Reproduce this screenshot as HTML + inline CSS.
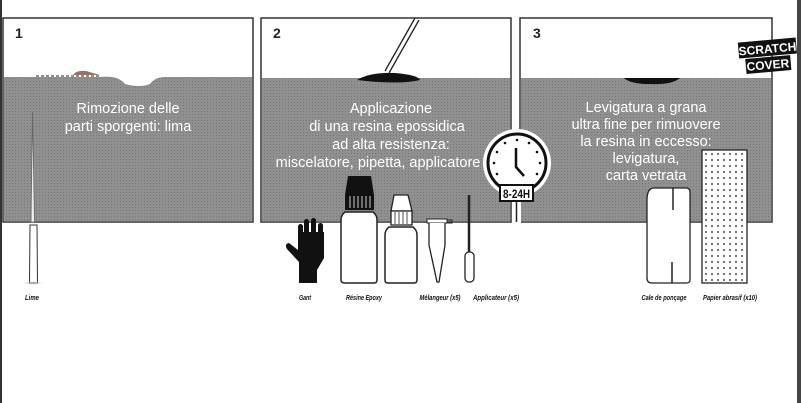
<!DOCTYPE html>
<html><head><meta charset="utf-8"><style>
html,body{margin:0;padding:0;background:#fff;width:801px;height:403px;overflow:hidden}
svg{display:block}
.t{font-family:"Liberation Sans",sans-serif;font-size:14.5px;fill:#fff;text-anchor:middle}
.l{font-family:"Liberation Sans",sans-serif;font-size:7px;font-style:italic;font-weight:bold;fill:#111;text-anchor:middle}
.n{font-family:"Liberation Sans",sans-serif;font-size:14px;font-weight:bold;fill:#222}
</style></head><body>
<svg width="801" height="403" viewBox="0 0 801 403">
<defs>
<pattern id="ht" width="3" height="3" patternUnits="userSpaceOnUse"><rect width="3" height="3" fill="#909090"/><rect width="1" height="1" fill="#777"/></pattern>
<radialGradient id="sh"><stop offset="0" stop-color="#888"/><stop offset="1" stop-color="#fff" stop-opacity="0"/></radialGradient>
</defs>
<rect x="0" y="0" width="2" height="403" fill="#333"/>
<rect x="797" y="0" width="4" height="403" fill="#444"/>
<g stroke="#333" stroke-width="1.5">
<rect x="3" y="18" width="250" height="204" fill="#fff"/>
<rect x="261" y="18" width="250" height="204" fill="#fff"/>
<rect x="520" y="18" width="252" height="204" fill="#fff"/>
</g>
<path d="M3.7 77 H100 Q118 75 125 84 Q140 88 150 84 Q155 77 165 77 H252.3 V221.3 H3.7Z" fill="url(#ht)"/>
<rect x="261.7" y="78" width="248.6" height="143.3" fill="url(#ht)"/>
<rect x="520.7" y="78" width="250.6" height="143.3" fill="url(#ht)"/>
<line x1="36" y1="76" x2="100" y2="76" stroke="#222" stroke-dasharray="3,2"/>
<path d="M73 75 Q76 70 86 71 L100 75Z" fill="#9a7068"/>
<text class="n" x="15" y="38">1</text><text class="n" x="273" y="38">2</text><text class="n" x="533" y="38">3</text>
<path d="M357 80 Q370 72 395 73 Q418 75 420 80 Q400 85 357 80Z" fill="#111"/>
<path d="M385 71 L415 18 M389 73 L419 20" fill="none" stroke="#222" stroke-width="1.3"/>
<path d="M624 78 H680 Q672 85 650 84 Q630 84 624 78Z" fill="#111"/>
<g transform="rotate(-5 768 55)"><rect x="739" y="40" width="58" height="16" fill="#111"/><text x="768" y="53" font-family="Liberation Sans" font-weight="bold" font-size="12" fill="#fff" text-anchor="middle">SCRATCH</text><rect x="745" y="57" width="45" height="15" fill="#111"/><text x="767" y="69" font-family="Liberation Sans" font-weight="bold" font-size="12" fill="#fff" text-anchor="middle">COVER</text></g>
<text class="t" x="128" y="113">Rimozione delle</text>
<text class="t" x="128" y="131">parti sporgenti: lima</text>
<text class="t" x="391" y="113">Applicazione</text>
<text class="t" x="387" y="131">di una resina epossidica</text>
<text class="t" x="391" y="149">ad alta resistenza:</text>
<text class="t" x="378" y="167">miscelatore, pipetta, applicatore</text>
<text class="t" x="646" y="112">Levigatura a grana</text>
<text class="t" x="646" y="129">ultra fine per rimuovere</text>
<text class="t" x="646" y="146">la resina in eccesso:</text>
<text class="t" x="646" y="163">levigatura,</text>
<text class="t" x="646" y="180">carta vetrata</text>
<!-- clock -->
<rect x="512" y="190" width="9" height="33" fill="#fff"/>
<line x1="516.5" y1="195" x2="516.5" y2="222" stroke="#222" stroke-width="1.5"/>
<circle cx="517" cy="163" r="34" fill="#fff"/>
<circle cx="517" cy="163" r="29" fill="#fff" stroke="#111" stroke-width="3"/>
<g fill="#111"><circle cx="517" cy="140" r="1.3"/><circle cx="529" cy="143" r="1.3"/><circle cx="537" cy="152" r="1.3"/><circle cx="540" cy="163" r="1.3"/><circle cx="537" cy="174" r="1.3"/><circle cx="505" cy="143" r="1.3"/><circle cx="497" cy="152" r="1.3"/><circle cx="494" cy="163" r="1.3"/><circle cx="497" cy="174" r="1.3"/></g>
<path d="M516 148 V167 L524 176" fill="none" stroke="#111" stroke-width="2.5"/>
<rect x="500" y="185" width="33" height="16" fill="#fff" stroke="#111" stroke-width="2"/>
<text x="516.5" y="198" font-family="Liberation Sans" font-weight="bold" font-size="12" fill="#111" text-anchor="middle" textLength="27" lengthAdjust="spacingAndGlyphs">8-24H</text>
<!-- lime -->
<path d="M32.5 112 L34.5 222 L31 222Z" fill="#eee" stroke="#666" stroke-width="0.8"/>
<path d="M30 225 L37 225 L37.5 283 L29.5 283Z" fill="#fff" stroke="#333"/>
<ellipse cx="33" cy="283" rx="12" ry="2" fill="url(#sh)"/>
<!-- glove -->
<g fill="#111">
<path d="M299 283 V262 L287 249 Q284 244 289 243 L298 250 V232 H324 V258 L317 270 V283Z"/>
<rect x="298" y="224" width="5" height="14" rx="2.5"/>
<rect x="304" y="219" width="5" height="18" rx="2.5"/>
<rect x="311" y="218" width="5" height="18" rx="2.5"/>
<rect x="318" y="223" width="5" height="16" rx="2.5"/>
</g>
<!-- big bottle -->
<path d="M348 176 H371 L374 195 V210 H345 V195Z" fill="#111"/>
<g stroke="#fff" stroke-width="0.8"><line x1="350" y1="196" x2="350" y2="208"/><line x1="354" y1="196" x2="354" y2="208"/><line x1="358" y1="196" x2="358" y2="208"/><line x1="362" y1="196" x2="362" y2="208"/><line x1="366" y1="196" x2="366" y2="208"/><line x1="370" y1="196" x2="370" y2="208"/></g>
<path d="M345 212 Q341 215 341 220 V280 Q341 283 345 283 H374 Q377 283 377 280 V220 Q377 215 373 212Z" fill="#fff" stroke="#222" stroke-width="1.5"/>
<!-- small bottle -->
<path d="M394 195 H408 L412 211 H391Z" fill="#fff" stroke="#222" stroke-width="1.3"/>
<rect x="391" y="211" width="21" height="14" fill="#fff" stroke="#222" stroke-width="1.3"/>
<g stroke="#222" stroke-width="0.8"><line x1="395" y1="212" x2="395" y2="224"/><line x1="399" y1="212" x2="399" y2="224"/><line x1="403" y1="212" x2="403" y2="224"/><line x1="407" y1="212" x2="407" y2="224"/></g>
<path d="M389 227 Q385 230 385 235 V280 Q385 283 388 283 H414 Q417 283 417 280 V235 Q417 230 413 227Z" fill="#fff" stroke="#222" stroke-width="1.5"/>
<!-- melangeur -->
<rect x="427" y="219" width="20" height="4" fill="#fff" stroke="#222"/>
<path d="M447 220 H452 V223 H447" fill="none" stroke="#222"/>
<path d="M429 223 V245 L437 282 H439 L445 245 V223" fill="#fff" stroke="#222" stroke-width="1.3"/>
<!-- applicateur -->
<path d="M469 195 V255" stroke="#222" stroke-width="2.5"/>
<rect x="465" y="252" width="9" height="30" rx="4" fill="#fff" stroke="#222" stroke-width="1.3"/>
<!-- cale -->
<path d="M654 188 H686 Q690 188 690 192 V280 Q690 283 686 283 H652 Q647 283 647 278 V200 Q647 188 654 188Z" fill="#fff" stroke="#222" stroke-width="1.3"/>
<line x1="673" y1="188" x2="673" y2="210" stroke="#222" stroke-width="1.5"/>
<line x1="672" y1="262" x2="672" y2="283" stroke="#222" stroke-width="1.5"/>
<!-- papier -->
<pattern id="dt" x="703" y="151" width="6" height="6" patternUnits="userSpaceOnUse"><rect width="6" height="6" fill="#fff"/><circle cx="3" cy="3" r="0.9" fill="#111"/></pattern>
<rect x="702" y="150" width="45" height="133" fill="url(#dt)" stroke="#222" stroke-width="1.3"/>
<!-- labels -->
<text class="l" x="32" y="300" textLength="14" lengthAdjust="spacingAndGlyphs">Lime</text>
<text class="l" x="305" y="300" textLength="12" lengthAdjust="spacingAndGlyphs">Gant</text>
<text class="l" x="364" y="300" textLength="36" lengthAdjust="spacingAndGlyphs">Résine Epoxy</text>
<text class="l" x="440" y="300" textLength="41" lengthAdjust="spacingAndGlyphs">Mélangeur (x5)</text>
<text class="l" x="496" y="300" textLength="46" lengthAdjust="spacingAndGlyphs">Applicateur (x5)</text>
<text class="l" x="664" y="300" textLength="45" lengthAdjust="spacingAndGlyphs">Cale de ponçage</text>
<text class="l" x="730" y="300" textLength="54" lengthAdjust="spacingAndGlyphs">Papier abrasif (x10)</text>
</svg>
</body></html>
